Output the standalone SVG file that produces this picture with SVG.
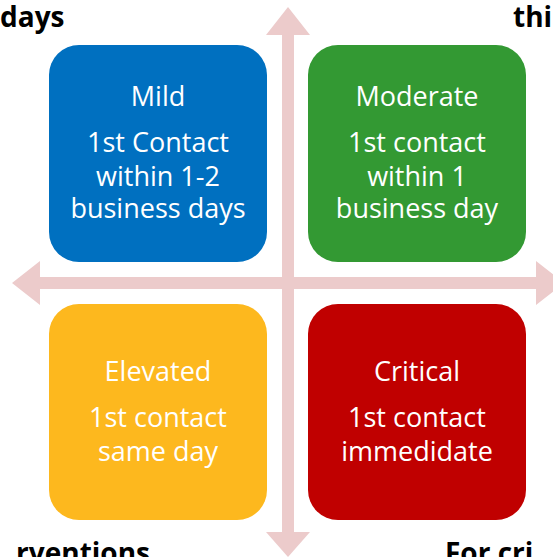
<svg xmlns="http://www.w3.org/2000/svg" width="553" height="557" viewBox="0 0 553 557">
  <style>
    .axis { fill: #ECCBCB; }
    .box { stroke: none; }
    .lbl { font-family: "Open Sans", "Liberation Sans", sans-serif; font-size: 27px; fill: #FFFFFF; text-anchor: middle; }
    .edge { font-family: "Open Sans", "Liberation Sans", sans-serif; font-size: 28px; font-weight: bold; fill: #000000; }
  </style>

  <!-- corner captions (partly outside the canvas) -->
  <text class="edge" x="0" y="27">days</text>
  <text class="edge" x="513" y="27">thi</text>
  <text class="edge" x="150" y="563" text-anchor="end">rventions</text>
  <text class="edge" x="445" y="563">For cri</text>

  <!-- axes -->
  <g id="connectors">
    <polygon class="axis" points="288,7 310,35 294,35 294,532 310,532 288,557 266,532 282,532 282,35 266,35"/>
    <polygon class="axis" points="12,283 40,261 40,277 536,277 536,261 564,283 536,305 536,289 40,289 40,305"/>
  </g>

  <g id="mild">
    <rect class="box" x="49" y="45" width="218" height="217" rx="30" fill="#0070C0"/>
    <text class="lbl" x="158" y="106">Mild</text>
    <text class="lbl" x="158" y="152">1st Contact</text>
    <text class="lbl" x="158" y="186">within 1-2</text>
    <text class="lbl" x="158" y="218">business days</text>
  </g>

  <g id="moderate">
    <rect class="box" x="308" y="45" width="218" height="217" rx="30" fill="#339933"/>
    <text class="lbl" x="417" y="106">Moderate</text>
    <text class="lbl" x="417" y="152">1st contact</text>
    <text class="lbl" x="417" y="186">within 1</text>
    <text class="lbl" x="417" y="218">business day</text>
  </g>

  <g id="elevated">
    <rect class="box" x="49" y="304" width="218" height="216" rx="30" fill="#FDB81E"/>
    <text class="lbl" x="158" y="381">Elevated</text>
    <text class="lbl" x="158" y="427">1st contact</text>
    <text class="lbl" x="158" y="461">same day</text>
  </g>

  <g id="critical">
    <rect class="box" x="308" y="304" width="218" height="216" rx="30" fill="#C00000"/>
    <text class="lbl" x="417" y="381">Critical</text>
    <text class="lbl" x="417" y="427">1st contact</text>
    <text class="lbl" x="417" y="461">immedidate</text>
  </g>
</svg>
